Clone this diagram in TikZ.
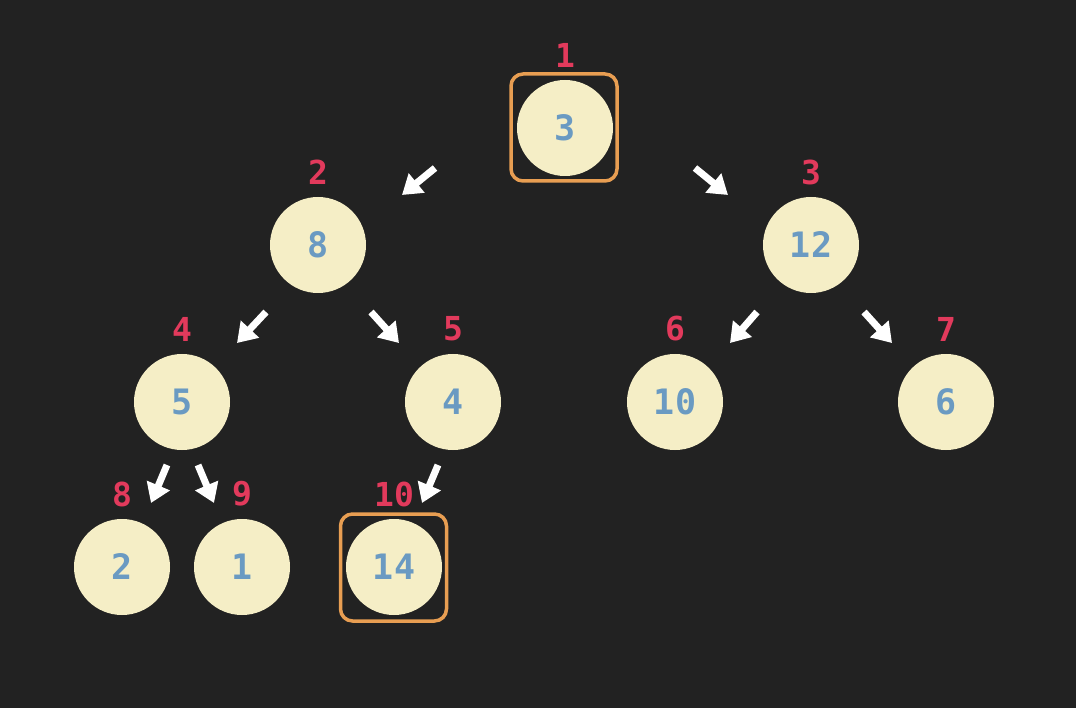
\documentclass[tikz,border=0pt]{standalone}
\usepackage{fontspec}
\setmonofont{DejaVu Sans Mono}
\usetikzlibrary{arrows.meta}
\definecolor{bg}{HTML}{222222}
\definecolor{nodefill}{HTML}{F5EEC6}
\definecolor{numblue}{HTML}{6A9AC2}
\definecolor{idxred}{HTML}{E23A5C}
\definecolor{boxorange}{HTML}{E89E52}
\tikzset{
  heapnode/.style={circle, fill=nodefill, minimum size=96pt, inner sep=0pt, text=numblue, font=\ttfamily\bfseries\fontsize{35}{35}\selectfont},
  idx/.style={text=idxred, font=\ttfamily\bfseries\fontsize{33}{33}\selectfont, inner sep=0pt},
  arr/.style={white, line width=7pt, -{Triangle[width=24pt,length=19pt]}},
  hlbox/.style={draw=boxorange, line width=3.5pt, rounded corners=12pt, minimum width=106pt, minimum height=107pt, inner sep=0pt}
}
\begin{document}
\begin{tikzpicture}[x=1pt,y=-1pt]
\fill[bg] (0,0) rectangle (1076,708);
\useasboundingbox (0,0) rectangle (1076,708);
% highlight boxes
\node[hlbox] (b1) at (564,127.5) {};
\node[hlbox] (b10) at (393.5,567.5) {};
% nodes
\node[heapnode] (n1) at (565,128) {3};
\node[heapnode] (n2) at (318,245) {8};
\node[heapnode] (n3) at (811,245) {12};
\node[heapnode] (n4) at (182,402) {5};
\node[heapnode] (n5) at (453,402) {4};
\node[heapnode] (n6) at (675,402) {10};
\node[heapnode] (n7) at (946,402) {6};
\node[heapnode] (n8) at (122,567) {2};
\node[heapnode] (n9) at (242,567) {1};
\node[heapnode] (n10) at (394,567) {14};
% index labels
\node[idx] (i1) at (565,55) {1};
\node[idx] (i2) at (318,172) {2};
\node[idx] (i3) at (811,172) {3};
\node[idx] (i4) at (182,329) {4};
\node[idx] (i5) at (453,329) {5};
\node[idx] (i6) at (675,329) {6};
\node[idx] (i7) at (946,329) {7};
\node[idx] (i8) at (122,494) {8};
\node[idx] (i9) at (242,494) {9};
\node[idx] (i10) at (394,494) {10};
% arrow end points
\coordinate (a12s) at (435,168); \coordinate (a12e) at (402,195);
\coordinate (a13s) at (695,168); \coordinate (a13e) at (728,195);
\coordinate (a24s) at (266,312); \coordinate (a24e) at (237,343);
\coordinate (a25s) at (371,312); \coordinate (a25e) at (399,343);
\coordinate (a36s) at (757,312); \coordinate (a36e) at (730,343);
\coordinate (a37s) at (864,312); \coordinate (a37e) at (892,343);
\coordinate (a48s) at (167,465); \coordinate (a48e) at (151,503);
\coordinate (a49s) at (198,465); \coordinate (a49e) at (214,503);
\coordinate (a510s) at (438,465); \coordinate (a510e) at (422,503);
\draw[arr] (a12s) -- (a12e);
\draw[arr] (a13s) -- (a13e);
\draw[arr] (a24s) -- (a24e);
\draw[arr] (a25s) -- (a25e);
\draw[arr] (a36s) -- (a36e);
\draw[arr] (a37s) -- (a37e);
\draw[arr] (a48s) -- (a48e);
\draw[arr] (a49s) -- (a49e);
\draw[arr] (a510s) -- (a510e);
\end{tikzpicture}
\end{document}
